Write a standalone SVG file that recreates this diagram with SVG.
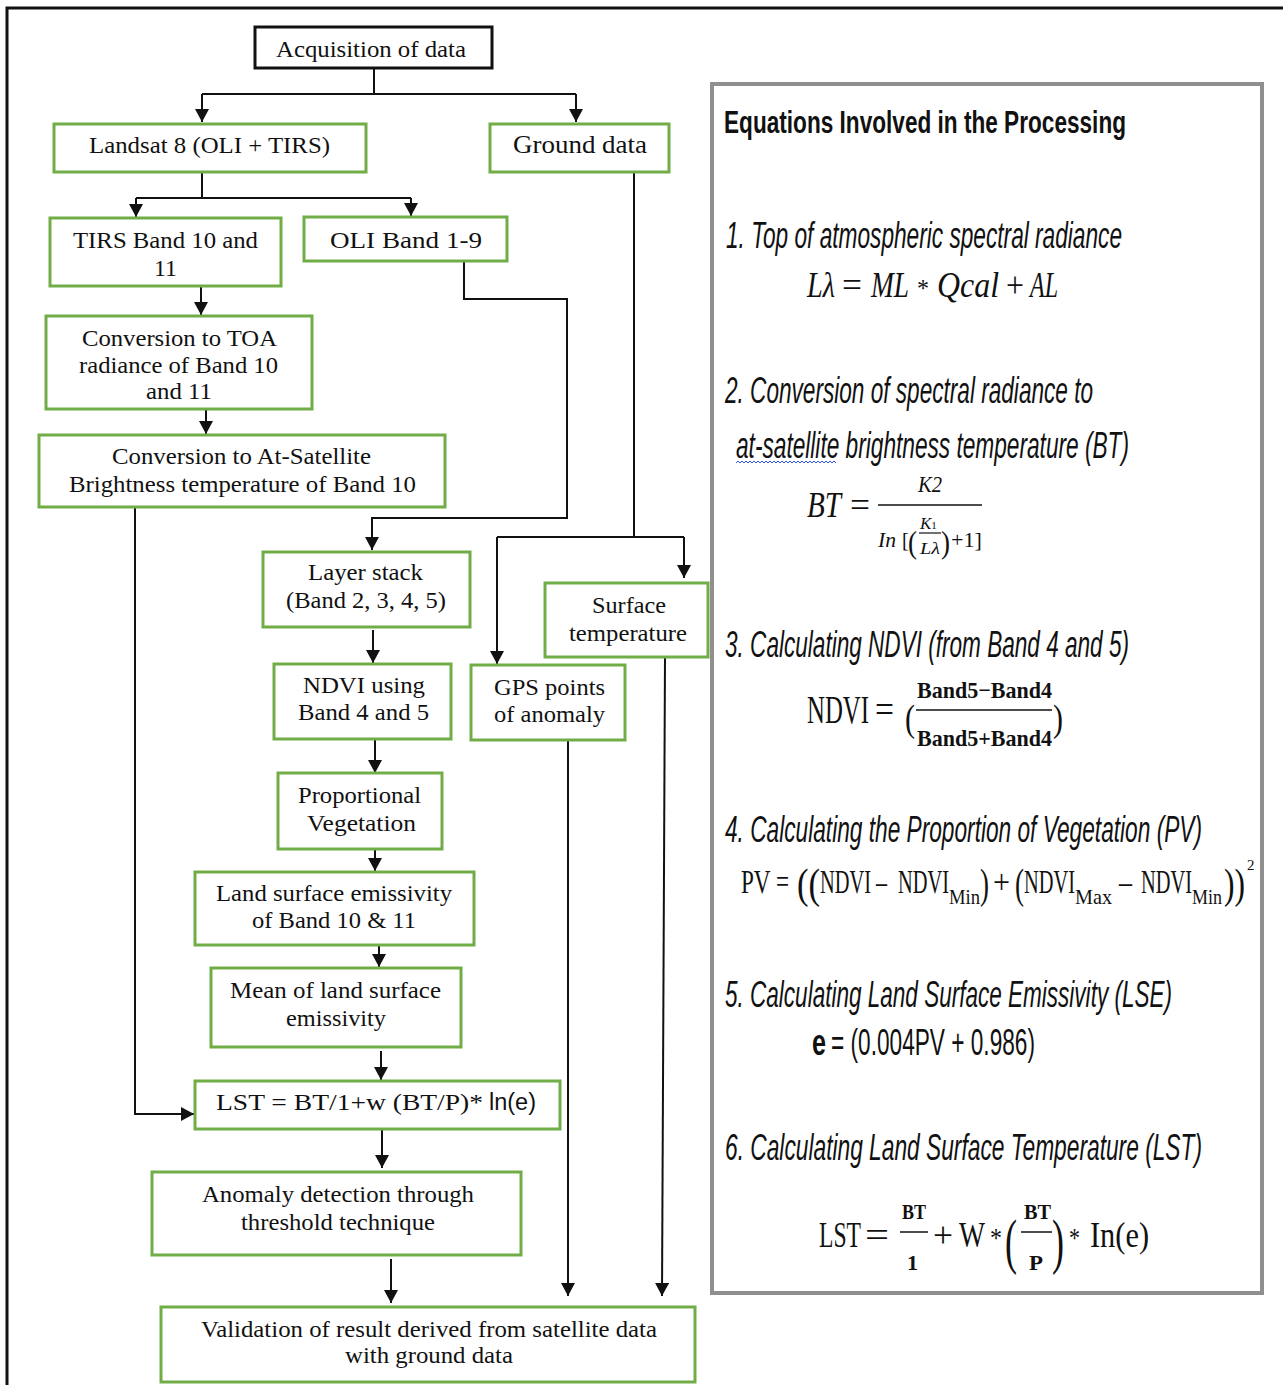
<svg xmlns="http://www.w3.org/2000/svg" width="1283" height="1385" viewBox="0 0 1283 1385">
<defs>
<marker id="arr" markerUnits="userSpaceOnUse" markerWidth="13" markerHeight="14" viewBox="0 0 13 14" refX="13" refY="7" orient="auto"><path d="M0,0 L13,7 L0,14 z" fill="#111"/></marker>
<style>
.box{fill:#fff;stroke:#70ad47;stroke-width:3}
.bbox{fill:#fff;stroke:#111;stroke-width:3}
.ft{font-family:"Liberation Serif","Times New Roman",serif;font-size:24px;fill:#111}
.c{fill:none;stroke:#111;stroke-width:2}
.ca{fill:none;stroke:#111;stroke-width:2;marker-end:url(#arr)}
.ph{font-family:"Liberation Sans",Arial,sans-serif;font-style:italic;font-size:36px;fill:#111}
.eqs{font-family:"Liberation Serif","Times New Roman",serif;fill:#111}
</style>
</defs>
<rect width="1283" height="1385" fill="#fff"/>
<path d="M7,1385 V8 H1283" fill="none" stroke="#111" stroke-width="3"/>

<g id="connectors">
<path class="c" d="M374,68 V94"/>
<path class="c" d="M202,94 H576"/>
<path class="ca" d="M202,94 V122"/>
<path class="ca" d="M576,94 V122"/>
<path class="c" d="M202,172 V198"/>
<path class="c" d="M136,198 H411"/>
<path class="ca" d="M136,198 V217"/>
<path class="ca" d="M411,198 V216"/>
<path class="ca" d="M464,261 V299 H567 V518 H372 V550"/>
<path class="ca" d="M201,286 V315"/>
<path class="ca" d="M206,409 V434"/>
<path class="ca" d="M135,507 V1114 H194"/>
<path class="c" d="M634,172 V537" stroke="#333"/>
<path class="c" d="M497,537 H684"/>
<path class="ca" d="M684,537 V578"/>
<path class="ca" d="M497,537 V664"/>
<path class="ca" d="M373,630 V663"/>
<path class="ca" d="M375,739 V773"/>
<path class="ca" d="M375,849 V871"/>
<path class="ca" d="M379,945 V967"/>
<path class="ca" d="M381,1051 V1080"/>
<path class="ca" d="M382,1129 V1168"/>
<path class="ca" d="M391,1259 V1303"/>
<path class="ca" d="M568,740 V1296"/>
<path class="ca" d="M665,657 L662,1296" stroke="#333"/>
</g>

<g id="n-acq"><rect class="bbox" x="255" y="27" width="237" height="41"/><text class="ft" x="276" y="57" textLength="190" lengthAdjust="spacingAndGlyphs">Acquisition of data</text></g>
<g id="n-landsat"><rect class="box" x="54" y="124" width="312" height="48"/><text class="ft" x="89" y="153" textLength="241" lengthAdjust="spacingAndGlyphs">Landsat 8 (OLI + TIRS)</text></g>
<g id="n-ground"><rect class="box" x="490" y="124" width="179" height="48"/><text class="ft" x="513" y="153" style="font-size:26px" textLength="134" lengthAdjust="spacingAndGlyphs">Ground data</text></g>
<g id="n-tirs"><rect class="box" x="50" y="218" width="231" height="68"/><text class="ft" x="73" y="248" textLength="185" lengthAdjust="spacingAndGlyphs">TIRS Band 10 and</text><text class="ft" x="154" y="276" textLength="23" lengthAdjust="spacingAndGlyphs">11</text></g>
<g id="n-oli"><rect class="box" x="304" y="217" width="203" height="44"/><text class="ft" x="330" y="248" textLength="152" lengthAdjust="spacingAndGlyphs">OLI Band 1-9</text></g>
<g id="n-toa"><rect class="box" x="46" y="316" width="266" height="93"/><text class="ft" x="82" y="346" textLength="195" lengthAdjust="spacingAndGlyphs">Conversion to TOA</text><text class="ft" x="79" y="373" textLength="199" lengthAdjust="spacingAndGlyphs">radiance of Band 10</text><text class="ft" x="146" y="399" textLength="66" lengthAdjust="spacingAndGlyphs">and 11</text></g>
<g id="n-atsat"><rect class="box" x="39" y="435" width="406" height="72"/><text class="ft" x="112" y="464" textLength="259" lengthAdjust="spacingAndGlyphs">Conversion to At-Satellite</text><text class="ft" x="69" y="492" textLength="347" lengthAdjust="spacingAndGlyphs">Brightness temperature of Band 10</text></g>
<g id="n-layer"><rect class="box" x="263" y="552" width="207" height="75"/><text class="ft" x="308" y="580" textLength="115" lengthAdjust="spacingAndGlyphs">Layer stack</text><text class="ft" x="286" y="608" textLength="160" lengthAdjust="spacingAndGlyphs">(Band 2, 3, 4, 5)</text></g>
<g id="n-surface"><rect class="box" x="545" y="583" width="163" height="74"/><text class="ft" x="592" y="613" textLength="74" lengthAdjust="spacingAndGlyphs">Surface</text><text class="ft" x="569" y="641" textLength="118" lengthAdjust="spacingAndGlyphs">temperature</text></g>
<g id="n-ndvi"><rect class="box" x="274" y="664" width="177" height="75"/><text class="ft" x="303" y="693" textLength="122" lengthAdjust="spacingAndGlyphs">NDVI using</text><text class="ft" x="298" y="720" textLength="131" lengthAdjust="spacingAndGlyphs">Band 4 and 5</text></g>
<g id="n-gps"><rect class="box" x="471" y="665" width="154" height="75"/><text class="ft" x="494" y="695" textLength="111" lengthAdjust="spacingAndGlyphs">GPS points</text><text class="ft" x="494" y="722" textLength="111" lengthAdjust="spacingAndGlyphs">of anomaly</text></g>
<g id="n-pv"><rect class="box" x="278" y="773" width="164" height="76"/><text class="ft" x="298" y="803" textLength="123" lengthAdjust="spacingAndGlyphs">Proportional</text><text class="ft" x="307" y="831" textLength="109" lengthAdjust="spacingAndGlyphs">Vegetation</text></g>
<g id="n-lse"><rect class="box" x="195" y="872" width="279" height="73"/><text class="ft" x="216" y="901" textLength="236" lengthAdjust="spacingAndGlyphs">Land surface emissivity</text><text class="ft" x="252" y="928" textLength="164" lengthAdjust="spacingAndGlyphs">of Band 10 &amp; 11</text></g>
<g id="n-mean"><rect class="box" x="211" y="968" width="250" height="79"/><text class="ft" x="230" y="998" textLength="211" lengthAdjust="spacingAndGlyphs">Mean of land surface</text><text class="ft" x="286" y="1026" textLength="100" lengthAdjust="spacingAndGlyphs">emissivity</text></g>
<g id="n-lst"><rect class="box" x="195" y="1081" width="365" height="48"/><text class="ft" x="216" y="1110" textLength="267" lengthAdjust="spacingAndGlyphs">LST = BT/1+w (BT/P)* </text><text x="489" y="1110" font-family="Liberation Sans, Arial, sans-serif" font-size="23" fill="#111" textLength="47" lengthAdjust="spacingAndGlyphs">ln(e)</text></g>
<g id="n-anom"><rect class="box" x="152" y="1172" width="369" height="83"/><text class="ft" x="202" y="1202" textLength="272" lengthAdjust="spacingAndGlyphs">Anomaly detection through</text><text class="ft" x="241" y="1230" textLength="194" lengthAdjust="spacingAndGlyphs">threshold technique</text></g>
<g id="n-valid"><rect class="box" x="161" y="1307" width="534" height="75"/><text class="ft" x="201" y="1337" textLength="456" lengthAdjust="spacingAndGlyphs">Validation of result derived from satellite data</text><text class="ft" x="345" y="1363" textLength="168" lengthAdjust="spacingAndGlyphs">with ground data</text></g>

<g id="equations">
<rect x="712" y="84" width="550" height="1209" fill="#fff" stroke="#8f8f8f" stroke-width="4"/>
<text x="724" y="133" font-family="Liberation Sans, Arial, sans-serif" font-weight="bold" font-size="32" fill="#111" textLength="402" lengthAdjust="spacingAndGlyphs">Equations Involved in the Processing</text>

<text class="ph" x="726" y="248" textLength="396" lengthAdjust="spacingAndGlyphs">1. Top of atmospheric spectral radiance</text>
<g class="eqs" font-size="36">
<text x="807" y="297" font-style="italic" textLength="28" lengthAdjust="spacingAndGlyphs">Lλ</text>
<text x="842" y="297" textLength="20" lengthAdjust="spacingAndGlyphs">=</text>
<text x="871" y="297" font-style="italic" textLength="38" lengthAdjust="spacingAndGlyphs">ML</text>
<text x="917" y="297" font-size="26" textLength="12" lengthAdjust="spacingAndGlyphs">*</text>
<text x="937" y="297" font-style="italic" textLength="62" lengthAdjust="spacingAndGlyphs">Qcal</text>
<text x="1006" y="297" textLength="18" lengthAdjust="spacingAndGlyphs">+</text>
<text x="1030" y="297" font-style="italic" textLength="28" lengthAdjust="spacingAndGlyphs">AL</text>
</g>

<text class="ph" x="725" y="403" textLength="368" lengthAdjust="spacingAndGlyphs">2. Conversion of spectral radiance to</text>
<text class="ph" x="736" y="458" textLength="393" lengthAdjust="spacingAndGlyphs">at-satellite brightness temperature (BT)</text>
<path d="M736,463 l2,-2 l2,2 l2,-2 l2,2 l2,-2 l2,2 l2,-2 l2,2 l2,-2 l2,2 l2,-2 l2,2 l2,-2 l2,2 l2,-2 l2,2 l2,-2 l2,2 l2,-2 l2,2 l2,-2 l2,2 l2,-2 l2,2 l2,-2 l2,2 l2,-2 l2,2 l2,-2 l2,2 l2,-2 l2,2 l2,-2 l2,2 l2,-2 l2,2 l2,-2 l2,2 l2,-2 l2,2 l2,-2 l2,2 l2,-2 l2,2 l2,-2 l2,2 l2,-2 l2,2 l2,-2 l2,2" fill="none" stroke="#3050f0" stroke-width="1"/>
<text class="eqs" x="807" y="517" font-size="36" font-style="italic" textLength="34" lengthAdjust="spacingAndGlyphs">BT</text>
<text class="eqs" x="850" y="517" font-size="36" textLength="20" lengthAdjust="spacingAndGlyphs">=</text>
<line x1="878" y1="505" x2="982" y2="505" stroke="#111" stroke-width="1.5"/>
<text class="eqs" x="918" y="492" font-size="24" font-style="italic" textLength="24" lengthAdjust="spacingAndGlyphs">K2</text>
<text class="eqs" x="878" y="547" font-size="20" font-style="italic" textLength="18" lengthAdjust="spacingAndGlyphs">In</text>
<text class="eqs" x="902" y="547" font-size="20">[</text>
<text class="eqs" x="908" y="553" font-size="32" textLength="9" lengthAdjust="spacingAndGlyphs">(</text>
<text class="eqs" x="920" y="529" font-size="17" font-style="italic">K<tspan font-size="11" font-style="normal">1</tspan></text>
<line x1="919" y1="533" x2="941" y2="533" stroke="#111" stroke-width="1.2"/>
<text class="eqs" x="920" y="554" font-size="17" font-style="italic" textLength="20" lengthAdjust="spacingAndGlyphs">Lλ</text>
<text class="eqs" x="941" y="553" font-size="32" textLength="9" lengthAdjust="spacingAndGlyphs">)</text>
<text class="eqs" x="951" y="547" font-size="20" textLength="31" lengthAdjust="spacingAndGlyphs">+1]</text>

<text class="ph" x="725" y="657" textLength="404" lengthAdjust="spacingAndGlyphs">3. Calculating NDVI (from Band 4 and 5)</text>
<text class="eqs" x="807" y="723" font-size="40" textLength="62" lengthAdjust="spacingAndGlyphs">NDVI</text>
<text class="eqs" x="875" y="723" font-size="40" textLength="19" lengthAdjust="spacingAndGlyphs">=</text>
<text class="eqs" x="905" y="731" font-size="38" textLength="10" lengthAdjust="spacingAndGlyphs">(</text>
<text class="eqs" x="917" y="698" font-size="23" font-weight="bold" textLength="135" lengthAdjust="spacingAndGlyphs">Band5−Band4</text>
<line x1="916" y1="710" x2="1052" y2="710" stroke="#111" stroke-width="1.5"/>
<text class="eqs" x="917" y="746" font-size="23" font-weight="bold" textLength="135" lengthAdjust="spacingAndGlyphs">Band5+Band4</text>
<text class="eqs" x="1053" y="731" font-size="38" textLength="10" lengthAdjust="spacingAndGlyphs">)</text>

<text class="ph" x="725" y="842" textLength="477" lengthAdjust="spacingAndGlyphs">4. Calculating the Proportion of Vegetation (PV)</text>
<g class="eqs" font-size="34">
<text x="741" y="893" textLength="48" lengthAdjust="spacingAndGlyphs">PV =</text>
<text x="797" y="898" font-size="42" textLength="23" lengthAdjust="spacingAndGlyphs">((</text>
<text x="820" y="893" textLength="51" lengthAdjust="spacingAndGlyphs">NDVI</text>
<text x="876" y="893" textLength="11" lengthAdjust="spacingAndGlyphs">–</text>
<text x="898" y="893" textLength="51" lengthAdjust="spacingAndGlyphs">NDVI</text>
<text x="949" y="904" font-size="22" textLength="31" lengthAdjust="spacingAndGlyphs">Min</text>
<text x="980" y="898" font-size="42" textLength="9" lengthAdjust="spacingAndGlyphs">)</text>
<text x="993" y="893" textLength="17" lengthAdjust="spacingAndGlyphs">+</text>
<text x="1015" y="898" font-size="42" textLength="9" lengthAdjust="spacingAndGlyphs">(</text>
<text x="1024" y="893" textLength="51" lengthAdjust="spacingAndGlyphs">NDVI</text>
<text x="1075" y="904" font-size="22" textLength="37" lengthAdjust="spacingAndGlyphs">Max</text>
<text x="1119" y="893" textLength="13" lengthAdjust="spacingAndGlyphs">–</text>
<text x="1141" y="893" textLength="51" lengthAdjust="spacingAndGlyphs">NDVI</text>
<text x="1192" y="904" font-size="22" textLength="30" lengthAdjust="spacingAndGlyphs">Min</text>
<text x="1224" y="898" font-size="42" textLength="21" lengthAdjust="spacingAndGlyphs">))</text>
<text x="1247" y="870" font-size="15">2</text>
</g>

<text class="ph" x="725" y="1007" textLength="447" lengthAdjust="spacingAndGlyphs">5. Calculating Land Surface Emissivity (LSE)</text>
<text x="812" y="1055" font-family="Liberation Sans, Arial, sans-serif" font-weight="bold" font-size="36" fill="#111" textLength="14" lengthAdjust="spacingAndGlyphs">e</text>
<text x="831" y="1055" font-family="Liberation Sans, Arial, sans-serif" font-size="36" fill="#111" textLength="204" lengthAdjust="spacingAndGlyphs">= (0.004PV + 0.986)</text>

<text class="ph" x="725" y="1160" textLength="477" lengthAdjust="spacingAndGlyphs">6. Calculating Land Surface Temperature (LST)</text>
<g class="eqs">
<text x="819" y="1247" font-size="36" textLength="42" lengthAdjust="spacingAndGlyphs">LST</text>
<text x="865" y="1247" font-size="36" textLength="24" lengthAdjust="spacingAndGlyphs">=</text>
<text x="902" y="1219" font-size="22" font-weight="bold" textLength="24" lengthAdjust="spacingAndGlyphs">BT</text>
<line x1="900" y1="1232" x2="928" y2="1232" stroke="#111" stroke-width="1.5"/>
<text x="907" y="1270" font-size="22" font-weight="bold" textLength="11" lengthAdjust="spacingAndGlyphs">1</text>
<text x="933" y="1247" font-size="36" textLength="20" lengthAdjust="spacingAndGlyphs">+</text>
<text x="959" y="1247" font-size="36" textLength="26" lengthAdjust="spacingAndGlyphs">W</text>
<text x="990" y="1247" font-size="28" textLength="12" lengthAdjust="spacingAndGlyphs">*</text>
<text x="1005" y="1262" font-size="62" textLength="12" lengthAdjust="spacingAndGlyphs">(</text>
<text x="1024" y="1219" font-size="22" font-weight="bold" textLength="27" lengthAdjust="spacingAndGlyphs">BT</text>
<line x1="1021" y1="1232" x2="1052" y2="1232" stroke="#111" stroke-width="1.5"/>
<text x="1029" y="1270" font-size="22" font-weight="bold" textLength="14" lengthAdjust="spacingAndGlyphs">P</text>
<text x="1052" y="1262" font-size="62" textLength="12" lengthAdjust="spacingAndGlyphs">)</text>
<text x="1069" y="1247" font-size="28" textLength="11" lengthAdjust="spacingAndGlyphs">*</text>
<text x="1090" y="1247" font-size="36" textLength="59" lengthAdjust="spacingAndGlyphs">In(e)</text>
</g>
</g>
</svg>
